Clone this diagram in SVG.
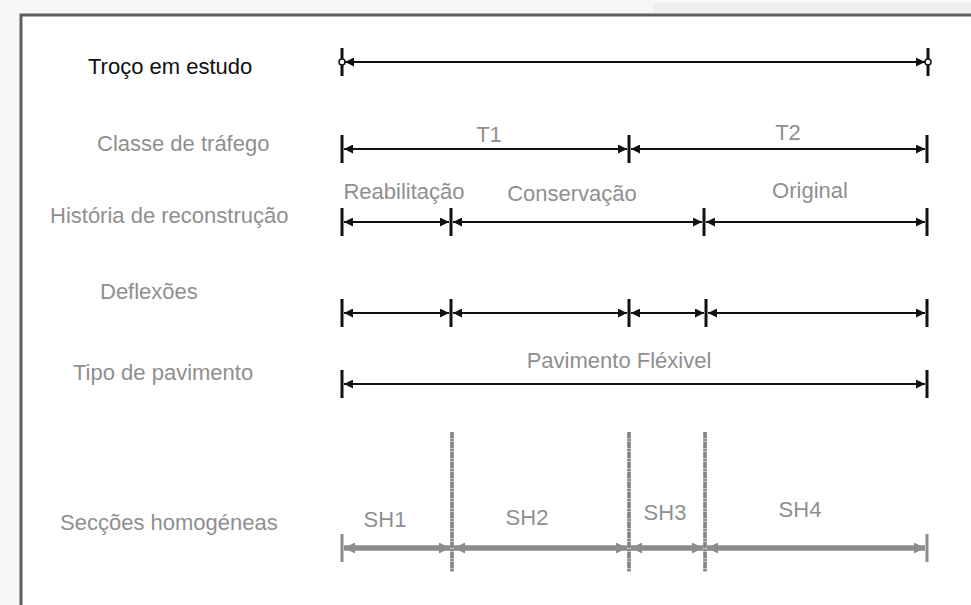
<svg xmlns="http://www.w3.org/2000/svg" width="971" height="605" viewBox="0 0 971 605">
  <style>
    .lbl { font-family: "Liberation Sans", Arial, sans-serif; font-size: 22px; fill: #8f8f8f; }
    .lbl.dark { fill: #111; }
    .seg { stroke: #111; stroke-width: 2; fill: none; marker-start: url(#arr); marker-end: url(#arr); }
    .tick { stroke: #111; stroke-width: 3; }
    .segsh { stroke: #8c8c8c; stroke-width: 5.5; fill: none; marker-start: url(#arrg); marker-end: url(#arrg); }
    .ticksh { stroke: #8c8c8c; stroke-width: 3; }
    .divbase { stroke: #c4c4c4; stroke-width: 3.5; }
    .div { stroke: #858585; stroke-width: 3.5; stroke-dasharray: 6 1 2 1; }
  </style>
  <defs>
    <marker id="arr" viewBox="0 0 10 10" refX="10" refY="5" markerWidth="11" markerHeight="9" markerUnits="userSpaceOnUse" orient="auto-start-reverse">
      <path d="M0,0 L10,5 L0,10 Z" fill="#111"/>
    </marker>
    <marker id="arrg" viewBox="0 0 10 10" refX="10" refY="5" markerWidth="12" markerHeight="11" markerUnits="userSpaceOnUse" orient="auto-start-reverse">
      <path d="M0,0 L10,5 L0,10 Z" fill="#8c8c8c"/>
    </marker>
  </defs>

  <!-- page background and frame -->
  <rect x="0" y="0" width="971" height="605" fill="#f7f7f7"/>
  <rect x="653" y="3" width="318" height="10" fill="#efefef"/>
  <rect x="21" y="15" width="950" height="590" fill="#ffffff"/>
  <line x1="20" y1="15" x2="971" y2="15" stroke="#5e5e5e" stroke-width="3"/>
  <line x1="21" y1="14" x2="21" y2="605" stroke="#5e5e5e" stroke-width="3"/>

  <!-- row labels -->
  <g id="row-troco"><text class="lbl dark" x="88" y="74">Troço em estudo</text></g>
  <g id="row-classe"><text class="lbl" x="97" y="151">Classe de tráfego</text></g>
  <g id="row-historia"><text class="lbl" x="50" y="223">História de reconstrução</text></g>
  <g id="row-deflexoes"><text class="lbl" x="100" y="299">Deflexões</text></g>
  <g id="row-tipo"><text class="lbl" x="73" y="380">Tipo de pavimento</text></g>
  <g id="row-seccoes"><text class="lbl" x="60" y="530">Secções homogéneas</text></g>

  <!-- segment labels -->
  <g id="seg-labels">
    <text class="lbl" x="489" y="142" text-anchor="middle">T1</text>
    <text class="lbl" x="788" y="140" text-anchor="middle">T2</text>
    <text class="lbl" x="404" y="199" text-anchor="middle">Reabilitação</text>
    <text class="lbl" x="572" y="201" text-anchor="middle">Conservação</text>
    <text class="lbl" x="810" y="198" text-anchor="middle">Original</text>
    <text class="lbl" x="619" y="368" text-anchor="middle">Pavimento Fléxivel</text>
    <text class="lbl" x="385" y="527" text-anchor="middle">SH1</text>
    <text class="lbl" x="527" y="525" text-anchor="middle">SH2</text>
    <text class="lbl" x="665" y="520" text-anchor="middle">SH3</text>
    <text class="lbl" x="800" y="517" text-anchor="middle">SH4</text>
  </g>

  <!-- connectors -->
  <g id="connectors">
    <!-- Troço em estudo -->
    <line class="tick" x1="342" y1="48" x2="342" y2="76"/>
    <line class="tick" x1="928" y1="48" x2="928" y2="76"/>
    <line class="seg" x1="345" y1="62" x2="925" y2="62"/>
    <circle cx="342" cy="62" r="3" fill="#fff" stroke="#111" stroke-width="1.5"/>
    <circle cx="928" cy="62" r="3" fill="#fff" stroke="#111" stroke-width="1.5"/>

    <!-- Classe de tráfego -->
    <line class="tick" x1="342" y1="135" x2="342" y2="163"/>
    <line class="tick" x1="629" y1="135" x2="629" y2="163"/>
    <line class="tick" x1="927" y1="135" x2="927" y2="163"/>
    <line class="seg" x1="344" y1="149" x2="627" y2="149"/>
    <line class="seg" x1="631" y1="149" x2="925" y2="149"/>

    <!-- História de reconstrução -->
    <line class="tick" x1="342" y1="208" x2="342" y2="236"/>
    <line class="tick" x1="451" y1="208" x2="451" y2="236"/>
    <line class="tick" x1="704" y1="208" x2="704" y2="236"/>
    <line class="tick" x1="927" y1="208" x2="927" y2="236"/>
    <line class="seg" x1="344" y1="222" x2="449" y2="222"/>
    <line class="seg" x1="453" y1="222" x2="702" y2="222"/>
    <line class="seg" x1="706" y1="222" x2="925" y2="222"/>

    <!-- Deflexões -->
    <line class="tick" x1="342" y1="299" x2="342" y2="327"/>
    <line class="tick" x1="451" y1="299" x2="451" y2="327"/>
    <line class="tick" x1="629" y1="299" x2="629" y2="327"/>
    <line class="tick" x1="706" y1="299" x2="706" y2="327"/>
    <line class="tick" x1="927" y1="299" x2="927" y2="327"/>
    <line class="seg" x1="344" y1="313" x2="449" y2="313"/>
    <line class="seg" x1="453" y1="313" x2="627" y2="313"/>
    <line class="seg" x1="631" y1="313" x2="704" y2="313"/>
    <line class="seg" x1="708" y1="313" x2="925" y2="313"/>

    <!-- Tipo de pavimento -->
    <line class="tick" x1="342" y1="370" x2="342" y2="398"/>
    <line class="tick" x1="927" y1="370" x2="927" y2="398"/>
    <line class="seg" x1="344" y1="384" x2="925" y2="384"/>

    <!-- Secções homogéneas: section boundaries, then the section arrows -->
    <line class="divbase" x1="452" y1="432" x2="452" y2="572"/>
    <line class="divbase" x1="629" y1="432" x2="629" y2="572"/>
    <line class="divbase" x1="705" y1="432" x2="705" y2="572"/>
    <line class="div" x1="452" y1="432" x2="452" y2="572"/>
    <line class="div" x1="629" y1="432" x2="629" y2="572"/>
    <line class="div" x1="705" y1="432" x2="705" y2="572"/>
    <line class="ticksh" x1="342" y1="534" x2="342" y2="562"/>
    <line class="ticksh" x1="927" y1="534" x2="927" y2="562"/>
    <line class="segsh" x1="344" y1="548" x2="450" y2="548"/>
    <line class="segsh" x1="454" y1="548" x2="627" y2="548"/>
    <line class="segsh" x1="631" y1="548" x2="703" y2="548"/>
    <line class="segsh" x1="707" y1="548" x2="925" y2="548"/>
  </g>
</svg>
